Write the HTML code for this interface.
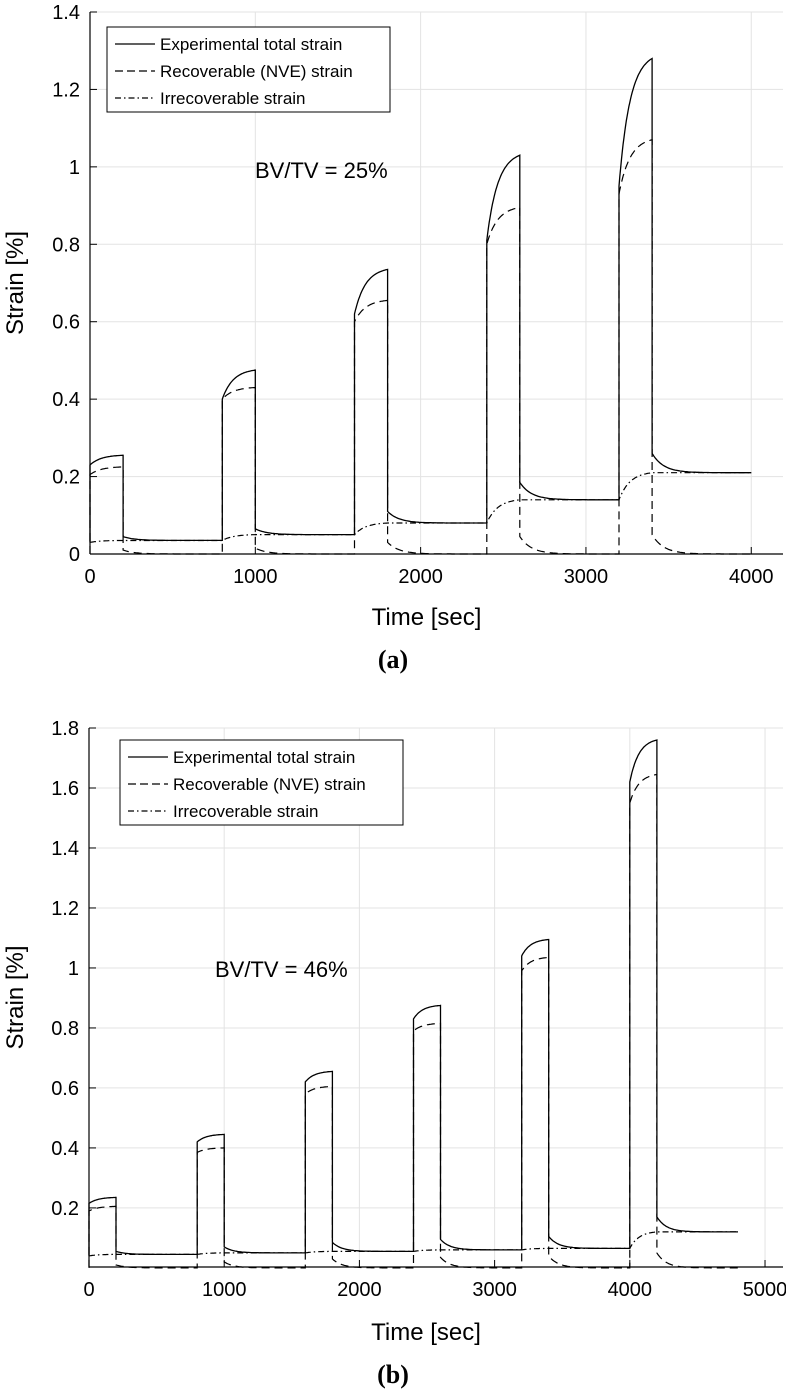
<!DOCTYPE html>
<html><head><meta charset="utf-8"><style>
body{margin:0;background:#fff}
svg text{font-family:"Liberation Sans",sans-serif;fill:#000}
</style></head><body>
<svg id="s" width="786" height="1393" xmlns="http://www.w3.org/2000/svg"></svg>
<script>
// ---- data (a) ----
const aLoadStart=[0,800,1600,2400,3200];
const aStartTotal=[0.23,0.40,0.62,0.81,0.95];
const aPeakTotal=[0.255,0.475,0.735,1.03,1.28];
const aStartRecov=[0.205,0.40,0.60,0.80,0.93];
const aPeakRecov=[0.225,0.43,0.655,0.895,1.07];
const aIrrec=[0.03,0.035,0.05,0.08,0.14,0.21];
const aRecovAfter=[0.01,0.015,0.03,0.045,0.05];
const aEnd=4000;
const aXTicks=[0,1000,2000,3000,4000];
const aYTicks=[0,0.2,0.4,0.6,0.8,1,1.2,1.4];
const aYLabels=["0","0.2","0.4","0.6","0.8","1","1.2","1.4"];
// ---- data (b) ----
const bLoadStart=[0,800,1600,2400,3200,4000];
const bStartTotal=[0.215,0.42,0.62,0.83,1.04,1.62];
const bPeakTotal=[0.235,0.445,0.655,0.875,1.095,1.76];
const bStartRecov=[0.19,0.385,0.58,0.79,0.99,1.55];
const bPeakRecov=[0.205,0.40,0.605,0.815,1.035,1.645];
const bIrrec=[0.04,0.045,0.05,0.055,0.06,0.065,0.12];
const bRecovAfter=[0.01,0.02,0.03,0.035,0.04,0.05];
const bEnd=4800;
const bXTicks=[0,1000,2000,3000,4000,5000];
const bYTicks=[0.2,0.4,0.6,0.8,1,1.2,1.4,1.6,1.8];
const bYLabels=["0.2","0.4","0.6","0.8","1","1.2","1.4","1.6","1.8"];

const NS="http://www.w3.org/2000/svg";
const svg=document.getElementById('s');
function mk(tag,attrs,parent){const e=document.createElementNS(NS,tag);for(const k in attrs)e.setAttribute(k,attrs[k]);(parent||svg).appendChild(e);return e;}

function series(L,ST,PT,SR,PR,IR,RA,end){
  const tot=[],rec=[],irr=[];const D=200;
  for(let i=0;i<L.length;i++){
    const t0=L[i],tu=t0+D,tn=(i+1<L.length)?L[i+1]:end;
    for(let s=0;s<=1.0001;s+=0.025){
      const g=(1-Math.exp(-3*s))/(1-Math.exp(-3));
      const t=t0+s*D;
      tot.push([t,ST[i]+(PT[i]-ST[i])*g]);
      rec.push([t,SR[i]+(PR[i]-SR[i])*g]);
      irr.push([t,IR[i]+(IR[i+1]-IR[i])*g]);
    }
    if(i===0){tot.unshift([0,IR[0]]);rec.unshift([0,0]);irr.unshift([0,IR[0]]);}
    for(let t=tu;t<=tn+0.01;t+=10){
      const r=RA[i]*Math.exp(-(t-tu)/70);
      rec.push([t,r]);irr.push([t,IR[i+1]]);tot.push([t,IR[i+1]+r]);
    }
  }
  return {tot,rec,irr};
}

function chart(o){
  const g=mk('g',{});
  
  
  const X=v=>o.x0+(v-o.xmin)/(o.xmax-o.xmin)*(o.x1-o.x0);
  const Y=v=>o.y0-(v-o.ymin)/(o.ymax-o.ymin)*(o.y0-o.y1);
  o.xt.forEach(v=>{
    const l=mk('line',{x1:X(v),x2:X(v),y1:o.y0,y2:o.y1,stroke:'#e3e3e3','stroke-width':1},g);
    
    mk('line',{x1:X(v),x2:X(v),y1:o.y0,y2:o.y0-7,stroke:'#000','stroke-width':1},g);
    const t=mk('text',{x:X(v),y:o.y0+29,'text-anchor':'middle','font-size':20},g);t.textContent=v;
    
  });
  o.yt.forEach((v,i)=>{
    const l=mk('line',{x1:o.x0,x2:o.x1,y1:Y(v),y2:Y(v),stroke:'#e3e3e3','stroke-width':1},g);
    
    mk('line',{x1:o.x0,x2:o.x0+7,y1:Y(v),y2:Y(v),stroke:'#000','stroke-width':1},g);
    const t=mk('text',{x:o.x0-10,y:Y(v)+7,'text-anchor':'end','font-size':20},g);t.textContent=o.yl[i];
    
  });
  mk('line',{x1:o.x0,x2:o.x0,y1:o.y0,y2:o.y1,stroke:'#000','stroke-width':1.2},g);
  mk('line',{x1:o.x0,x2:o.x1,y1:o.y0,y2:o.y0,stroke:'#000','stroke-width':1.2},g);
  const d=series(o.L,o.ST,o.PT,o.SR,o.PR,o.IR,o.RA,o.end);
  const path=(pts)=>pts.map((p,i)=>(i?'L':'M')+X(p[0]).toFixed(1)+' '+Y(p[1]).toFixed(1)).join(' ');
  const p1=mk('path',{d:path(d.tot),fill:'none',stroke:'#000','stroke-width':1.3},g);
  
  const p2=mk('path',{d:path(d.rec),fill:'none',stroke:'#000','stroke-width':1.2,'stroke-dasharray':'8,5'},g);
  
  const p3=mk('path',{d:path(d.irr),fill:'none',stroke:'#000','stroke-width':1.2,'stroke-dasharray':'6,3,1.5,3'},g);
  
  const lg=mk('g',{},g);
  mk('rect',{x:o.lx,y:o.ly,width:283,height:85,fill:'#fff',stroke:'#000','stroke-width':1},lg);
  const names=['Experimental total strain','Recoverable (NVE) strain','Irrecoverable strain'];
  const dashes=['none','8,4','6,3,1.5,3'];
  names.forEach((n,i)=>{
    const yy=o.ly+17+i*27;
    mk('line',{x1:o.lx+8,x2:o.lx+48,y1:yy,y2:yy,stroke:'#000','stroke-width':1.2,'stroke-dasharray':dashes[i]},lg);
    const t=mk('text',{x:o.lx+53,y:yy+6,'font-size':17},lg);t.textContent=n;
    
  });
  const an=mk('text',{x:o.ax,y:o.ay,'font-size':22},g);an.textContent=o.ann;
  
  const xt=mk('text',{x:(o.x0+o.x1)/2-10,y:o.xly,'text-anchor':'middle','font-size':24},g);xt.textContent='Time [sec]';
  
  const cy=(o.y0+o.y1)/2;
  const yt=mk('text',{x:0,y:0,'text-anchor':'middle','font-size':24,transform:`translate(23,${cy}) rotate(-90)`},g);yt.textContent='Strain [%]';
  
  const pl=mk('text',{x:393,y:o.ply,'text-anchor':'middle','font-size':26,'font-weight':'bold',style:'font-family:"Liberation Serif",serif'},g);pl.textContent=o.panel;
  
}

chart({name:'chart-a',x0:90,x1:783,xmin:0,xmax:4192,y0:554,y1:12,ymin:0,ymax:1.4,
  xt:aXTicks,yt:aYTicks,yl:aYLabels,L:aLoadStart,ST:aStartTotal,PT:aPeakTotal,SR:aStartRecov,PR:aPeakRecov,IR:aIrrec,RA:aRecovAfter,end:aEnd,
  lx:107,ly:27,ann:'BV/TV = 25%',ax:255,ay:178,xly:625,panel:'(a)',ply:668});
chart({name:'chart-b',x0:89,x1:783,xmin:0,xmax:5133,y0:1267,y1:728,ymin:0.003,ymax:1.8,
  xt:bXTicks,yt:bYTicks,yl:bYLabels,L:bLoadStart,ST:bStartTotal,PT:bPeakTotal,SR:bStartRecov,PR:bPeakRecov,IR:bIrrec,RA:bRecovAfter,end:bEnd,
  lx:120,ly:740,ann:'BV/TV = 46%',ax:215,ay:977,xly:1340,panel:'(b)',ply:1383});
</script>
</body></html>
